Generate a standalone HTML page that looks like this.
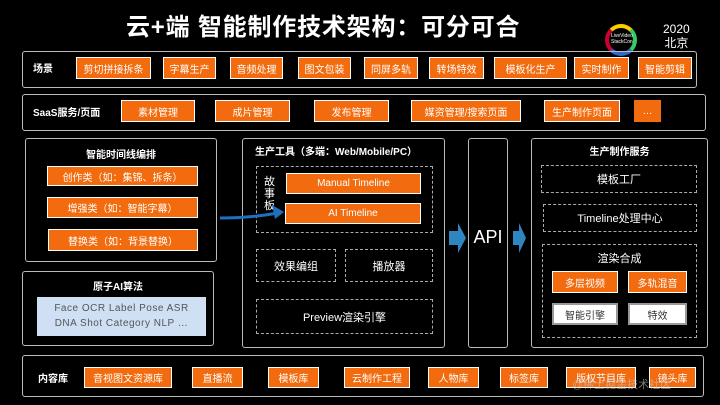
<!DOCTYPE html>
<html><head><meta charset="utf-8"><style>
*{margin:0;padding:0;box-sizing:border-box}
body{width:720px;height:405px;background:#000;position:relative;overflow:hidden;font-family:"Liberation Sans","Noto Sans CJK SC",sans-serif;color:#fff}
.a{position:absolute}
.box{position:absolute;border:1.5px solid #bbb;border-radius:3px}
.d{position:absolute;border:1px dashed #aaa;display:flex;align-items:center;justify-content:center;font-size:11px}
.o{position:absolute;background:#f26b0e;border:1px solid #fff;color:#fff;font-size:10px;display:flex;align-items:center;justify-content:center;white-space:nowrap}
.w{position:absolute;background:#fff;border:2px solid #999;color:#333;font-size:10px;display:flex;align-items:center;justify-content:center}
.t{position:absolute;font-size:10px;font-weight:bold;white-space:nowrap}
</style></head><body>
<div class="a" style="left:126px;top:7px;font-size:24px;font-weight:bold;white-space:nowrap;letter-spacing:0.8px">云+端 智能制作技术架构：可分可合</div>
<div class="a" style="left:605px;top:24px;width:32px;height:32px;border-radius:50%;border:4px solid #c03;border-top-color:#fc0;border-right-color:#3c6;border-bottom-color:#36c"></div>
<div class="a" style="left:611px;top:33px;font-size:5px;line-height:6px">LiveVideo<br>StackCon</div>
<div class="a" style="left:663px;top:22px;font-size:12px;line-height:14px;text-align:center">2020<br>北京</div>

<div class="box" style="left:22px;top:51px;width:675px;height:37px"></div>
<div class="t" style="left:33px;top:60px">场景</div>
<div class="o" style="left:76px;top:57px;width:75px;height:22px">剪切拼接拆条</div>
<div class="o" style="left:163px;top:57px;width:53px;height:22px">字幕生产</div>
<div class="o" style="left:230px;top:57px;width:53px;height:22px">音频处理</div>
<div class="o" style="left:298px;top:57px;width:53px;height:22px">图文包装</div>
<div class="o" style="left:364px;top:57px;width:54px;height:22px">同屏多轨</div>
<div class="o" style="left:429px;top:57px;width:55px;height:22px">转场特效</div>
<div class="o" style="left:494px;top:57px;width:73px;height:22px">模板化生产</div>
<div class="o" style="left:574px;top:57px;width:55px;height:22px">实时制作</div>
<div class="o" style="left:638px;top:57px;width:54px;height:22px">智能剪辑</div>

<div class="box" style="left:22px;top:94px;width:684px;height:37px"></div>
<div class="t" style="left:33px;top:104px">SaaS服务/页面</div>
<div class="o" style="left:121px;top:100px;width:74px;height:22px">素材管理</div>
<div class="o" style="left:215px;top:100px;width:75px;height:22px">成片管理</div>
<div class="o" style="left:314px;top:100px;width:75px;height:22px">发布管理</div>
<div class="o" style="left:411px;top:100px;width:110px;height:22px">媒资管理/搜索页面</div>
<div class="o" style="left:544px;top:100px;width:76px;height:22px">生产制作页面</div>
<div class="o" style="left:634px;top:100px;width:27px;height:22px;border:none">…</div>

<div class="box" style="left:25px;top:138px;width:192px;height:124px"></div>
<div class="t" style="left:25px;top:146px;width:192px;text-align:center">智能时间线编排</div>
<div class="o" style="left:47px;top:166px;width:151px;height:20px">创作类（如：集锦、拆条）</div>
<div class="o" style="left:47px;top:197px;width:151px;height:21px">增强类（如：智能字幕）</div>
<div class="o" style="left:48px;top:229px;width:150px;height:22px">替换类（如：背景替换）</div>

<div class="box" style="left:22px;top:271px;width:192px;height:75px"></div>
<div class="t" style="left:22px;top:278px;width:192px;text-align:center">原子AI算法</div>
<div class="a" style="left:37px;top:297px;width:169px;height:39px;background:#cfe0f5;color:#555;font-size:10px;line-height:15px;text-align:center;padding-top:4px;letter-spacing:0.5px">Face OCR Label Pose ASR<br>DNA Shot Category NLP …</div>

<div class="box" style="left:242px;top:138px;width:203px;height:210px"></div>
<div class="t" style="left:255px;top:143px">生产工具（多端：Web/Mobile/PC）</div>
<div class="d" style="left:256px;top:166px;width:177px;height:67px"></div>
<div class="a" style="left:264px;top:176px;font-size:11px;line-height:12px;width:12px">故事板</div>
<div class="o" style="left:286px;top:173px;width:135px;height:21px">Manual Timeline</div>
<div class="o" style="left:285px;top:203px;width:136px;height:21px">AI Timeline</div>
<div class="d" style="left:256px;top:249px;width:80px;height:33px">效果编组</div>
<div class="d" style="left:345px;top:249px;width:88px;height:33px">播放器</div>
<div class="d" style="left:256px;top:299px;width:177px;height:35px">Preview渲染引擎</div>
<svg class="a" style="left:0;top:0" width="720" height="405"><path d="M220 218 Q250 218 278 213" stroke="#1f6fc0" stroke-width="3" fill="none"/><path d="M284 212 L272 205 L275 219 Z" fill="#1f6fc0"/>
<path d="M449 231 L458 231 L458 223 L466 238 L458 253 L458 245 L449 245 Z" fill="#2e86c1"/>
<path d="M513 231 L519 231 L519 223 L526 238 L519 253 L519 245 L513 245 Z" fill="#2e86c1"/></svg>

<div class="box" style="left:468px;top:138px;width:40px;height:210px"></div>
<div class="a" style="left:468px;top:227px;width:40px;text-align:center;font-size:18px">API</div>

<div class="box" style="left:531px;top:138px;width:177px;height:210px"></div>
<div class="t" style="left:531px;top:143px;width:177px;text-align:center">生产制作服务</div>
<div class="d" style="left:541px;top:165px;width:156px;height:28px">模板工厂</div>
<div class="d" style="left:543px;top:204px;width:154px;height:28px">Timeline处理中心</div>
<div class="d" style="left:542px;top:244px;width:155px;height:94px;align-items:flex-start;padding-top:5px">渲染合成</div>
<div class="o" style="left:552px;top:271px;width:66px;height:22px">多层视频</div>
<div class="o" style="left:628px;top:271px;width:59px;height:22px">多轨混音</div>
<div class="w" style="left:552px;top:303px;width:66px;height:22px">智能引擎</div>
<div class="w" style="left:628px;top:303px;width:59px;height:22px">特效</div>

<div class="box" style="left:22px;top:355px;width:682px;height:42px"></div>
<div class="t" style="left:38px;top:370px">内容库</div>
<div class="o" style="left:84px;top:367px;width:88px;height:21px">音视图文资源库</div>
<div class="o" style="left:192px;top:367px;width:51px;height:21px">直播流</div>
<div class="o" style="left:268px;top:367px;width:51px;height:21px">模板库</div>
<div class="o" style="left:344px;top:367px;width:66px;height:21px">云制作工程</div>
<div class="o" style="left:428px;top:367px;width:51px;height:21px">人物库</div>
<div class="o" style="left:500px;top:367px;width:48px;height:21px">标签库</div>
<div class="o" style="left:566px;top:367px;width:70px;height:21px">版权节目库</div>
<div class="o" style="left:649px;top:367px;width:47px;height:21px">镜头库</div>
<div class="a" style="left:572px;top:376px;font-size:11px;color:rgba(200,200,200,0.6)">@稀土掘金技术社区</div>
</body></html>
